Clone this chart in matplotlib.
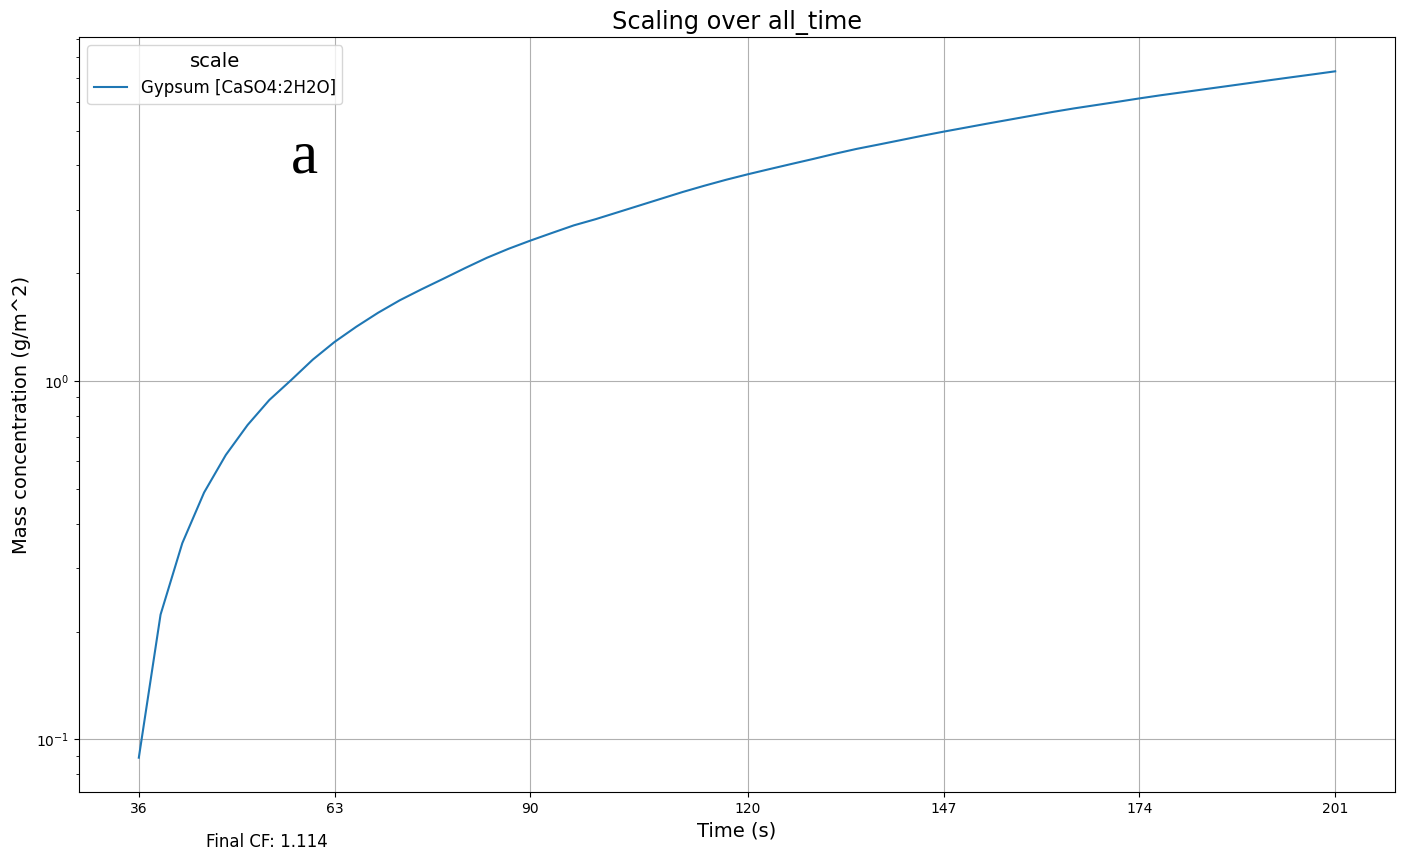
import numpy as np
import matplotlib
matplotlib.use("Agg")
import matplotlib.pyplot as plt

# time in seconds (3 s steps)
time_s = list(range(36, 202, 3))
# Gypsum mass concentration (g/m^2)
gypsum = [0.0889, 0.223, 0.353, 0.4885, 0.622, 0.754, 0.8855, 1.006,
          1.148, 1.286, 1.418, 1.551, 1.681, 1.804, 1.930, 2.067,
          2.208, 2.340, 2.466, 2.591, 2.720, 2.830, 2.956, 3.088,
          3.226, 3.370, 3.509, 3.646, 3.777, 3.905, 4.035, 4.167,
          4.309, 4.446, 4.570, 4.700, 4.835, 4.967, 5.096, 5.229,
          5.361, 5.497, 5.636, 5.768, 5.891, 6.017, 6.150, 6.278,
          6.399, 6.524, 6.650, 6.780, 6.914, 7.047, 7.180, 7.319]
series_label = "Gypsum [CaSO4:2H2O]"
final_cf = 1.114

fig = plt.figure(figsize=(14.04, 8.55), dpi=100)
ax = fig.add_axes([79 / 1404, 1 - 792 / 855, (1395 - 79) / 1404, (792 - 37) / 855])

ax.plot(time_s, gypsum, label=series_label, color="#1f77b4", linewidth=1.5)
ax.set_yscale("log")

# 7 ticks spread over the time points
idx = np.round(np.linspace(0, len(time_s) - 1, 7)).astype(int)
ax.set_xticks([time_s[i] for i in idx])
ax.set_xticklabels([str(time_s[i]) for i in idx])

ax.grid(True, which="major", color="#b0b0b0", linewidth=0.8)
ax.set_title("Scaling over all_time", fontsize=17.3)
ax.set_xlabel("Time (s)", fontsize=14)
ax.set_ylabel("Mass concentration (g/m^2)", fontsize=14)

ax.legend(title="scale", loc="upper left", fontsize=12, title_fontsize=14)

ax.text(0.171, 0.84, "a", transform=ax.transAxes, ha="center", va="center",
        fontsize=44, family="Liberation Serif")

fig.text(206 / 1404, 1 - 842 / 855, f"Final CF: {final_cf}", fontsize=12,
         ha="left", va="center")

fig.savefig("out.png", dpi=100)
